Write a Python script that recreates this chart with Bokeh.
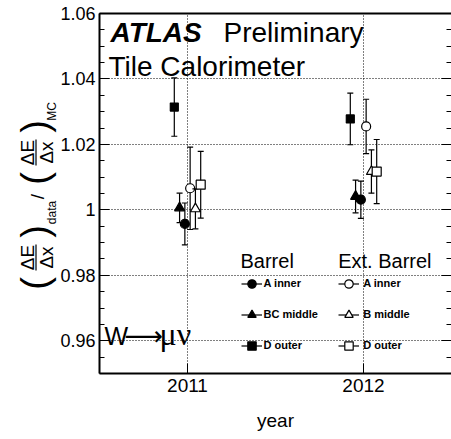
import numpy as np
from bokeh.plotting import figure
from bokeh.layouts import row
from bokeh.models import (ColumnDataSource, Range1d, LinearAxis, FixedTicker,
                          Label, Legend, LegendItem)
from bokeh.core.properties import value
from bokeh.transform import dodge
from bokeh.embed import file_html
from bokeh.resources import INLINE

# ---------------- data ----------------
years = [2011, 2012]
x_tick_labels = ["2011", "2012"]

barrel_A = [0.9957, 1.0031]
barrel_A_err = [0.0064, 0.0057]
barrel_BC = [1.0006, 1.0041]
barrel_BC_err = [0.0045, 0.0050]
barrel_D = [1.0314, 1.0278]
barrel_D_err = [0.0089, 0.0079]

ext_A = [1.0066, 1.0255]
ext_A_err = [0.0126, 0.0083]
ext_B = [1.0003, 1.0117]
ext_B_err = [0.0061, 0.0066]
ext_D = [1.0077, 1.0117]
ext_D_err = [0.0102, 0.0098]

y_ticks = [0.96, 0.98, 1.00, 1.02, 1.04, 1.06]
y_tick_labels = ["0.96", "0.98", "1", "1.02", "1.04", "1.06"]

FONT = "Liberation Sans"

# ---------------- geometry (page px) ----------------
W, H = 451, 439
LEFT_W = 57          # narrow figure holding the rotated y title
MAIN_BL = 40         # left border of the main figure
FT, FB = 13, 373     # frame top / bottom
FL = LEFT_W + MAIN_BL  # frame left (97)

def rx(x):
    return x - FL

def ry(y):
    return FB - y

p = figure(width=W - LEFT_W, height=H,
           x_range=Range1d(2010.5, 2012.5), y_range=Range1d(0.95, 1.06),
           output_backend="svg", toolbar_location=None,
           min_border_left=MAIN_BL, min_border_right=0, min_border_top=FT,
           min_border_bottom=H - FB)
p.background_fill_color = "white"
p.border_fill_color = "white"
p.outline_line_color = None

yticker = FixedTicker(ticks=y_ticks,
                      minor_ticks=list(np.round(np.arange(0.95, 1.0601, 0.005), 4)))
xticker = FixedTicker(ticks=years, minor_ticks=[])

yax = p.yaxis[0]
yax.ticker = yticker
yax.major_label_overrides = {t: l for t, l in zip(y_ticks, y_tick_labels)}
yax.major_tick_in = 10
yax.major_tick_out = 0
yax.minor_tick_in = 5
yax.minor_tick_out = 0
yax.major_label_standoff = 4
yax.major_label_text_font = FONT
yax.major_label_text_font_size = "18px"
yax.major_label_text_color = "black"
yax.axis_line_width = 2
yax.axis_line_color = "black"
yax.major_tick_line_color = "black"
yax.minor_tick_line_color = "black"

xax = p.xaxis[0]
xax.ticker = xticker
xax.major_label_overrides = {t: l for t, l in zip(years, x_tick_labels)}
xax.major_tick_in = 10
xax.major_tick_out = 0
xax.minor_tick_line_color = None
xax.major_label_standoff = 5
xax.major_label_text_font = FONT
xax.major_label_text_font_size = "19px"
xax.major_label_text_color = "black"
xax.axis_line_width = 2
xax.axis_line_color = "black"
xax.axis_label = "year"
xax.axis_label_text_font = FONT
xax.axis_label_text_font_size = "19px"
xax.axis_label_text_font_style = "normal"
xax.axis_label_text_color = "black"
xax.axis_label_standoff = 15

# right side: ticks only
rax = LinearAxis(ticker=yticker)
rax.major_tick_in = 10
rax.major_tick_out = 0
rax.minor_tick_in = 5
rax.minor_tick_out = 0
rax.major_label_text_font_size = "0px"
rax.major_label_text_alpha = 0
rax.major_label_standoff = 0
rax.axis_line_color = None
p.add_layout(rax, "right")

# top edge line
tax = LinearAxis(ticker=FixedTicker(ticks=[]))
tax.axis_line_width = 2
tax.axis_line_color = "black"
tax.major_tick_out = 0
tax.major_tick_in = 0
tax.minor_tick_out = 0
tax.minor_tick_in = 0
tax.major_label_text_font_size = "0px"
tax.major_label_text_alpha = 0
tax.major_label_standoff = 0
p.add_layout(tax, "above")

for g in (p.xgrid[0], p.ygrid[0]):
    g.grid_line_color = "black"
    g.grid_line_dash = "1 2"
    g.grid_line_width = 1
p.xgrid[0].ticker = xticker
p.ygrid[0].ticker = yticker

series = [
    ("A inner", barrel_A, barrel_A_err, -0.015, "circle", "black", 9),
    ("BC middle", barrel_BC, barrel_BC_err, -0.045, "triangle", "black", 10),
    ("D outer", barrel_D, barrel_D_err, -0.075, "square", "black", 8),
    ("A inner", ext_A, ext_A_err, 0.015, "circle", "white", 9),
    ("B middle", ext_B, ext_B_err, 0.045, "triangle", "white", 10),
    ("D outer", ext_D, ext_D_err, 0.075, "square", "white", 9),
]

items_barrel, items_ext = [], []
for i, (name, vals, errs, off, mk, fill, sz) in enumerate(series):
    src = ColumnDataSource(dict(
        year=years, v=vals,
        lo=[v - e for v, e in zip(vals, errs)],
        hi=[v + e for v, e in zip(vals, errs)]))
    xx = dodge("year", off, range=p.x_range)
    bar = p.segment(x0=xx, y0="lo", x1=xx, y1="hi", source=src,
                    line_color="black", line_width=1.2)
    p.scatter(x=xx, y="lo", marker="dash", size=6, line_color="black",
              line_width=1.2, source=src)
    p.scatter(x=xx, y="hi", marker="dash", size=6, line_color="black",
              line_width=1.2, source=src)
    m = p.scatter(x=xx, y="v", marker=mk, size=sz, fill_color=fill,
                  line_color="black", line_width=1.2, source=src)
    item = LegendItem(label=value(name), renderers=[bar, m])
    (items_barrel if i < 3 else items_ext).append(item)

def make_legend(items, title, loc, gw, standoff):
    return Legend(items=items, title=title, location=loc,
                  title_text_font=FONT, title_text_font_size="20px",
                  title_text_font_style="normal", title_text_color="black",
                  title_standoff=0,
                  label_text_font=FONT, label_text_font_size="11px",
                  label_text_font_style="bold", label_text_color="black",
                  glyph_width=gw, glyph_height=21, label_height=21,
                  spacing=10, padding=0, margin=0, label_standoff=standoff,
                  border_line_color=None, background_fill_alpha=0)

p.add_layout(make_legend(items_barrel, "Barrel", (rx(238.5), ry(355.8)), 21, 2))
p.add_layout(make_legend(items_ext, "Ext. Barrel", (rx(336.2), ry(355.8)), 21, 4))

def lab(fig, text, x, y, size, style="normal", font=FONT, angle=0.0,
        align="left", baseline="alphabetic", conv=(rx, ry)):
    fig.add_layout(Label(x=conv[0](x), y=conv[1](y), x_units="screen",
                         y_units="screen", text=text, text_font=font,
                         text_font_size=size, text_font_style=style,
                         text_color="black", angle=angle, text_align=align,
                         text_baseline=baseline))

lab(p, "ATLAS", 108, 32, "28px", "bold italic")
lab(p, "Preliminary", 221, 32, "28px")
lab(p, "Tile Calorimeter", 106, 66, "28px")

lab(p, "W", 102, 335, "25px")
lab(p, "\u27f6", 122, 335, "27px", font="DejaVu Sans")
lab(p, "\u03bc\u03bd", 157, 333, "32px", font="Liberation Serif")

# ---------------- narrow figure with the rotated y title ----------------
q = figure(width=LEFT_W, height=H, x_range=Range1d(0, LEFT_W),
           y_range=Range1d(0, FB - FT), output_backend="svg",
           toolbar_location=None, x_axis_location=None, y_axis_location=None,
           min_border_left=0, min_border_right=0, min_border_top=FT,
           min_border_bottom=H - FB)
q.outline_line_color = None
q.grid.visible = False
q.background_fill_color = "white"
q.border_fill_color = "white"

def qx(x):
    return x

A = np.pi / 2
def qlab(text, x, y, size, font=FONT):
    lab(q, text, x, y, size, font=font, angle=A, align="center",
        baseline="middle", conv=(qx, ry))

for cy in (257, 152):
    qlab("\u0394E", 27, cy, "19px")
    qlab("\u0394x", 46, cy, "19px")
    q.segment(x0=qx(35.5), y0=ry(cy - 13), x1=qx(35.5), y1=ry(cy + 13),
              line_color="black", line_width=1.2)
qlab("(", 34, 283, "38px")
qlab(")", 34, 231, "38px")
qlab("data", 51, 212, "12px")
qlab("/", 37, 196, "19px")
qlab("(", 34, 178, "38px")
qlab(")", 34, 126, "38px")
qlab("MC", 51, 111, "12px")

layout = row(q, p)
open("out.html", "w").write(file_html(layout, INLINE))
